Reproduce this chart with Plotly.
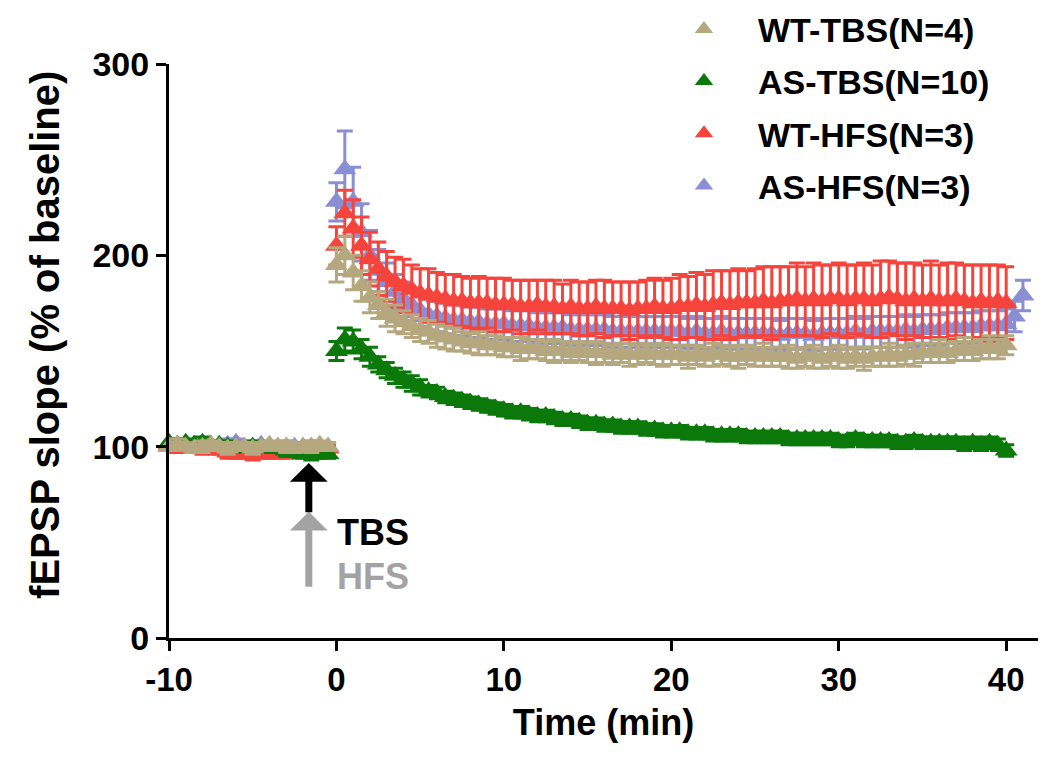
import numpy as np
import plotly.graph_objects as go

# ---------------- data ----------------
series_names = ["WT-TBS(N=4)", "AS-TBS(N=10)", "WT-HFS(N=3)", "AS-HFS(N=3)"]
series_colors = ["#B5A77E", "#0A790A", "#F5443C", "#8A8ED2"]

# baseline: -10 .. -0.5 min, every 0.5 min
wt_tbs_base = [100, 101, 100, 99, 100, 101, 100, 99, 100, 100, 99, 100, 101, 100, 100, 99, 100, 100, 101, 100]
as_tbs_base = [102, 101, 102, 101, 102, 101, 101, 100, 100, 99, 100, 100, 99, 99, 98, 97, 96, 96, 96, 96]
wt_hfs_base = [101, 100, 100, 100, 99, 99, 98, 97, 96, 96, 96, 96, 96, 96, 97, 98, 99, 99, 99, 99]
as_hfs_base = [100, 100, 100, 101, 100, 99, 100, 101, 102, 100, 100, 101, 100, 100, 100, 100, 100, 100, 100, 100]
base_err = [2, 3, 2, 2, 3, 2, 2, 3, 2, 2, 3, 2, 2, 2, 3, 2, 2, 3, 2, 2]

# post-induction: 0 .. 40 (41) min, every 0.5 min
wt_tbs_post = [195, 200, 191, 184, 178, 174, 170, 167, 165, 163,
               161, 160, 158, 157, 156, 155, 154, 154, 153, 153,
               152, 152, 151, 151, 151, 150, 150, 150, 149, 150,
               149, 149, 149, 148, 149, 148, 148, 149, 148, 148,
               148, 148, 147, 148, 147, 148, 148, 147, 147, 148,
               147, 148, 147, 147, 147, 146, 147, 147, 146, 147,
               147, 146, 147, 146, 147, 147, 148, 147, 148, 148,
               149, 149, 150, 149, 150, 151, 150, 151, 152, 151,
               153]
wt_tbs_err = [9, 10, 9, 8, 8, 7, 7, 7, 6, 6,
              6, 6, 6, 6, 6, 5, 5, 6, 5, 5,
              5, 5, 6, 5, 5, 5, 6, 5, 5, 5,
              5, 6, 5, 5, 5, 6, 5, 5, 5, 6,
              5, 5, 6, 5, 5, 6, 5, 5, 6, 5,
              5, 6, 5, 5, 6, 5, 5, 6, 5, 5,
              6, 5, 5, 6, 5, 5, 6, 5, 5, 6,
              5, 5, 6, 5, 5, 6, 5, 5, 6, 5,
              5]

as_tbs_post = [150, 156, 155, 151, 147, 143, 140, 137, 135, 133,
               131, 129, 128, 126, 125, 124, 123, 122, 121, 120,
               119, 118, 118, 117, 116, 116, 115, 114, 114, 113,
               112, 112, 111, 111, 110, 110, 110, 109, 109, 108,
               108, 108, 107, 107, 107, 106, 106, 106, 106, 105,
               105, 105, 105, 105, 104, 104, 104, 104, 104, 104,
               103, 103, 104, 103, 103, 103, 103, 102, 102, 103,
               102, 102, 102, 102, 102, 101, 102, 101, 102, 101,
               98]
as_tbs_err = [5, 6, 6, 5, 5, 4, 4, 4, 4, 4,
              4, 3, 3, 3, 3, 3, 3, 3, 3, 3,
              3, 3, 3, 3, 3, 3, 3, 3, 3, 3,
              3, 3, 3, 3, 3, 3, 3, 3, 3, 3,
              3, 3, 3, 3, 3, 3, 3, 3, 3, 3,
              3, 3, 3, 3, 3, 3, 3, 3, 3, 3,
              3, 3, 3, 3, 3, 3, 3, 3, 3, 3,
              3, 3, 3, 3, 3, 3, 3, 3, 3, 3,
              3]

wt_hfs_post = [205, 222, 214, 205, 198, 193, 189, 186, 184, 182,
               180, 179, 178, 177, 176, 176, 175, 175, 175, 174,
               174, 174, 173, 173, 174, 173, 173, 172, 173, 172,
               172, 173, 172, 172, 172, 171, 172, 172, 173, 172,
               172, 173, 173, 174, 173, 174, 175, 174, 175, 175,
               175, 176, 175, 176, 176, 177, 176, 177, 176, 177,
               177, 176, 177, 177, 176, 177, 178, 177, 176, 177,
               176, 177, 176, 176, 177, 176, 175, 176, 175, 176,
               175]
wt_hfs_err = [10, 12, 15, 15, 14, 14, 13, 13, 14, 13,
              13, 14, 13, 13, 14, 13, 13, 14, 13, 14,
              14, 13, 14, 14, 13, 14, 14, 13, 14, 14,
              14, 14, 15, 14, 14, 15, 14, 15, 15, 15,
              16, 17, 16, 17, 17, 18, 17, 18, 18, 17,
              18, 18, 19, 18, 18, 19, 18, 19, 19, 18,
              19, 19, 18, 19, 19, 20, 19, 19, 20, 19,
              19, 20, 19, 20, 19, 19, 20, 19, 20, 19,
              19]

as_hfs_post = [228, 245, 228, 212, 200, 192, 186, 181, 177, 174,
               171, 169, 168, 167, 166, 166, 165, 165, 164, 164,
               164, 163, 163, 163, 162, 162, 162, 162, 161, 161,
               161, 161, 161, 160, 160, 160, 160, 160, 160, 160,
               160, 160, 159, 160, 159, 159, 160, 159, 159, 159,
               159, 159, 159, 158, 159, 159, 159, 158, 159, 159,
               159, 159, 160, 159, 160, 160, 160, 160, 161, 160,
               161, 161, 161, 162, 162, 162, 162, 163, 163, 163,
               164, 168, 179]
as_hfs_err = [10, 20, 18, 15, 13, 11, 10, 9, 9, 8,
              8, 8, 8, 8, 8, 8, 8, 8, 8, 8,
              8, 8, 8, 8, 8, 8, 8, 8, 8, 8,
              8, 8, 8, 8, 8, 8, 8, 8, 8, 8,
              8, 8, 8, 8, 8, 8, 8, 8, 8, 8,
              8, 8, 8, 8, 8, 8, 8, 8, 8, 8,
              8, 8, 8, 8, 8, 8, 8, 8, 8, 8,
              8, 8, 8, 8, 8, 8, 8, 8, 8, 8,
              8, 8, 8]

base_step = 0.5
post_step = 0.5

x_ticks = [-10, 0, 10, 20, 30, 40]
x_tick_labels = ["-10", "0", "10", "20", "30", "40"]
y_ticks = [0, 100, 200, 300]

FONT = "Liberation Sans"

# ---------------- figure ----------------
fig = go.Figure()

bases = [wt_tbs_base, as_tbs_base, wt_hfs_base, as_hfs_base]
posts = [wt_tbs_post, as_tbs_post, wt_hfs_post, as_hfs_post]
errs = [wt_tbs_err, as_tbs_err, wt_hfs_err, as_hfs_err]

# draw from last to first so WT-TBS is on top
for i in [3, 2, 1, 0]:
    b = bases[i]
    p = posts[i]
    tb = -10 + base_step * np.arange(len(b))
    tp = post_step * np.arange(len(p))
    x = np.concatenate([tb, tp])
    y = list(b) + list(p)
    e = list(base_err) + list(errs[i])
    fig.add_trace(go.Scatter(
        x=x, y=y, mode="markers", name=series_names[i],
        legendgroup=series_names[i], legendrank=i + 1,
        marker=dict(symbol="triangle-up", size=20, color=series_colors[i]),
        error_y=dict(type="data", array=e, visible=True, color=series_colors[i],
                     thickness=3, width=8),
        cliponaxis=False,
    ))

axis_common = dict(
    showline=True, linecolor="black", linewidth=3,
    ticks="outside", ticklen=10, tickwidth=3, tickcolor="black",
    showgrid=False, zeroline=False, automargin=False,
)

fig.update_xaxes(range=[-10, 41.9], tickvals=x_ticks, ticktext=x_tick_labels,
                 tickfont=dict(family=FONT, size=33, color="black", weight="bold"),
                 title=dict(text="Time (min)", standoff=14,
                            font=dict(family=FONT, size=36, color="black", weight="bold")),
                 **axis_common)
fig.update_yaxes(range=[0, 300], tickvals=y_ticks,
                 tickfont=dict(family=FONT, size=34, color="black", weight="bold"),
                 **axis_common)

# y-axis title (placed off-centre as in the original)
fig.add_annotation(x=-0.1427, y=0.528, xref="paper", yref="paper",
                   text="fEPSP slope (% of baseline)", textangle=-90, showarrow=False,
                   xanchor="center", yanchor="middle",
                   font=dict(family=FONT, size=40, color="black", weight="bold"))

# stimulation arrows and labels
fig.add_annotation(x=-1.65, y=66, ax=-1.65, ay=26, xref="x", yref="y", axref="x", ayref="y",
                   text="", showarrow=True, arrowhead=1, arrowwidth=7, arrowsize=0.9,
                   arrowcolor="#A3A3A3")
fig.add_annotation(x=-1.65, y=91.5, ax=-1.65, ay=65, xref="x", yref="y", axref="x", ayref="y",
                   text="", showarrow=True, arrowhead=1, arrowwidth=7, arrowsize=0.9,
                   arrowcolor="black")
fig.add_annotation(x=-0.07, y=55, xref="x", yref="y", text="TBS", showarrow=False,
                   xanchor="left", font=dict(family=FONT, size=36, color="black", weight="bold"))
fig.add_annotation(x=-0.07, y=32, xref="x", yref="y", text="HFS", showarrow=False,
                   xanchor="left", font=dict(family=FONT, size=36, color="#A3A3A3", weight="bold"))

fig.update_layout(
    width=1050, height=757,
    margin=dict(l=161, r=20, t=56, b=127, autoexpand=False),
    paper_bgcolor="white", plot_bgcolor="white",
    showlegend=True,
    legend=dict(x=0.5535, y=1.111, xanchor="left", yanchor="top",
                traceorder="grouped", tracegroupgap=5, itemwidth=98,
                font=dict(family=FONT, size=34, color="black", weight="bold"),
                bgcolor="rgba(0,0,0,0)"),
)

fig.write_html("out.html")
